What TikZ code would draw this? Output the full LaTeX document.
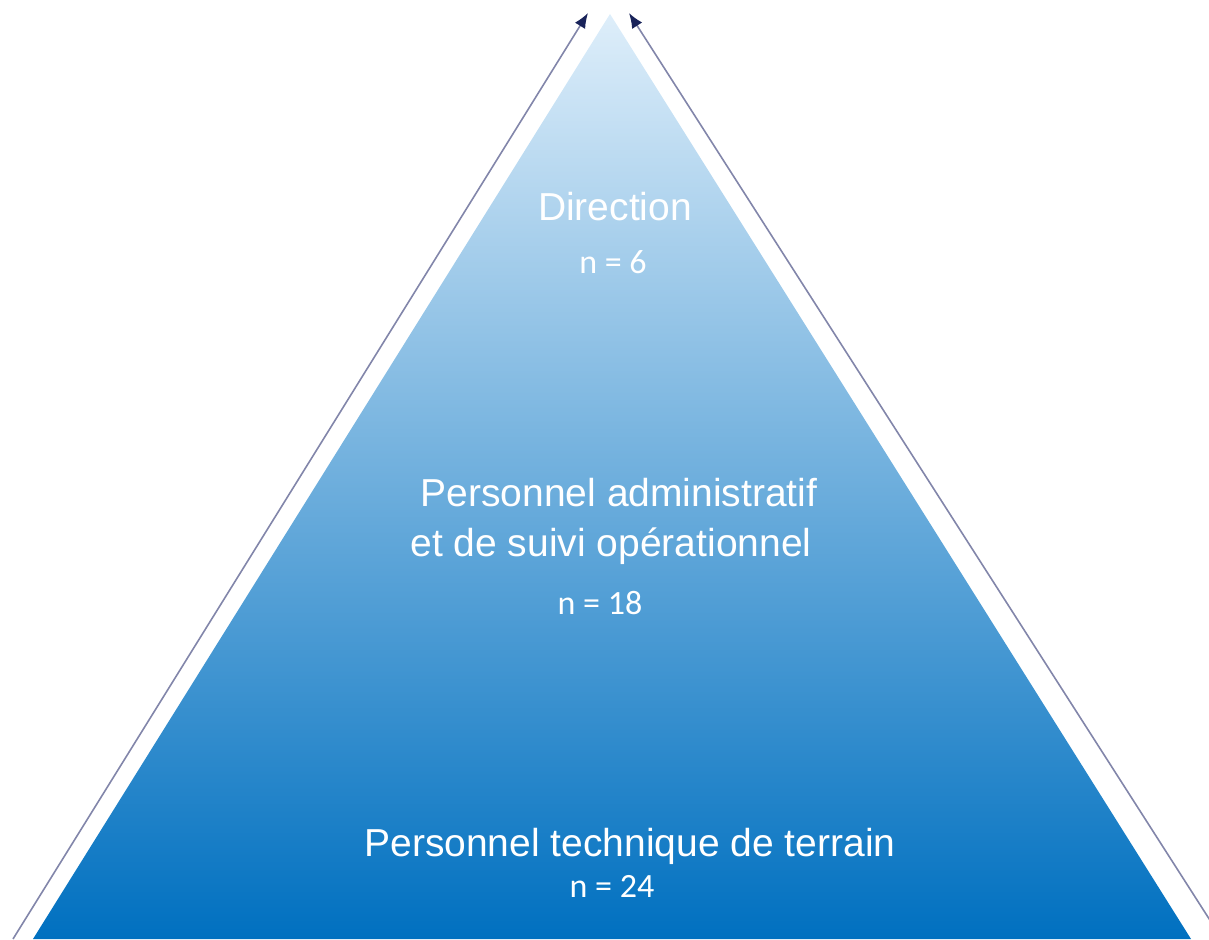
\documentclass[tikz,border=0pt]{standalone}
\usepackage{fontspec}
\setmainfont{Liberation Sans}
\newfontfamily\calfont{Carlito}
\usetikzlibrary{arrows.meta}
\definecolor{pyrtop}{RGB}{222,238,250}
\definecolor{pyrmid}{RGB}{100,166,220}
\definecolor{pyrbot}{RGB}{0,112,192}
\definecolor{arrline}{RGB}{130,134,170}
\definecolor{arrhead}{RGB}{25,35,90}
\tikzset{
  lbl/.style={text=white, font=\fontsize{39}{44}\selectfont, inner sep=0pt, align=center},
  cnt/.style={text=white, font=\calfont\fontsize{34}{38}\selectfont, inner sep=0pt},
  sidearrow/.style={draw=arrline, line width=1.6pt, -{Latex[length=15pt,width=12pt,color=arrhead]}}
}
\begin{document}
\begin{tikzpicture}[x=1pt,y=-1pt]
\useasboundingbox (0,0) rectangle (1209,939);
\begin{scope}
\clip (0,0) rectangle (1209,939);
\shade[top color=pyrtop, middle color=pyrmid, bottom color=pyrbot] (610,14) -- (1191,939) -- (33,939) -- cycle;
\coordinate (lb) at (13,939);
\coordinate (lt) at (588,13);
\coordinate (rb) at (1222,939);
\coordinate (rt) at (629,13);
\draw[sidearrow] (lb) -- (lt);
\draw[sidearrow] (rb) -- (rt);
\end{scope}
\node[lbl] (dir) at (615,207) {Direction};
\node[cnt] (n6) at (613,262) {n = 6};
\node[lbl, anchor=base] (adm1) at (619,506) {Personnel administratif};
\node[lbl, anchor=base] (adm2) at (611,556) {et de suivi opérationnel};
\node[cnt] (n18) at (600,603) {n = 18};
\node[lbl, anchor=base] (tec) at (630,856) {Personnel technique de terrain};
\node[cnt] (n24) at (612,886) {n = 24};
\end{tikzpicture}
\end{document}
